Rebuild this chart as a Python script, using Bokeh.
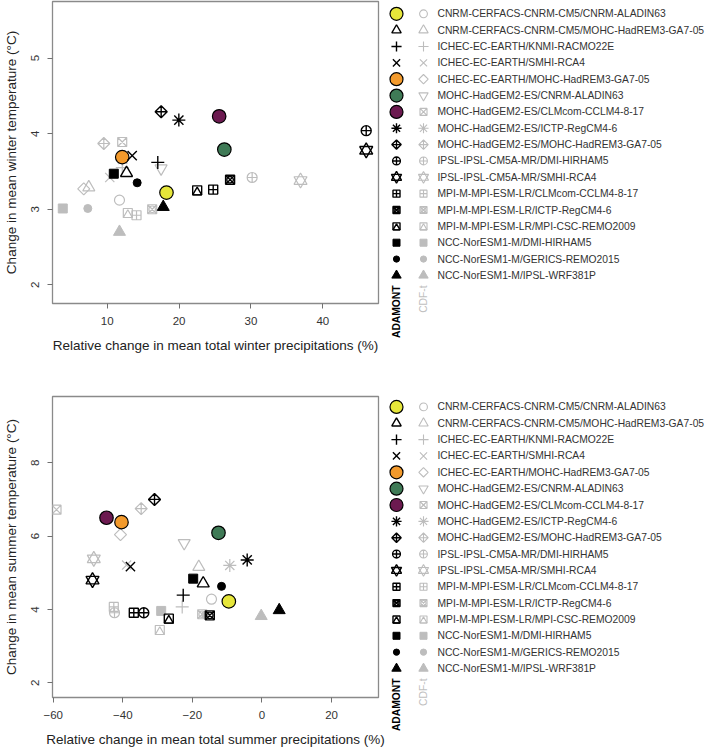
import math
from bokeh.plotting import figure
from bokeh.models import Range1d, FixedTicker
from bokeh.layouts import column, row
from bokeh.embed import file_html
from bokeh.resources import INLINE
from bokeh.core.properties import value

FONT = "Liberation Sans"

models = [
    "CNRM-CERFACS-CNRM-CM5/CNRM-ALADIN63",
    "CNRM-CERFACS-CNRM-CM5/MOHC-HadREM3-GA7-05",
    "ICHEC-EC-EARTH/KNMI-RACMO22E",
    "ICHEC-EC-EARTH/SMHI-RCA4",
    "ICHEC-EC-EARTH/MOHC-HadREM3-GA7-05",
    "MOHC-HadGEM2-ES/CNRM-ALADIN63",
    "MOHC-HadGEM2-ES/CLMcom-CCLM4-8-17",
    "MOHC-HadGEM2-ES/ICTP-RegCM4-6",
    "MOHC-HadGEM2-ES/MOHC-HadREM3-GA7-05",
    "IPSL-IPSL-CM5A-MR/DMI-HIRHAM5",
    "IPSL-IPSL-CM5A-MR/SMHI-RCA4",
    "MPI-M-MPI-ESM-LR/CLMcom-CCLM4-8-17",
    "MPI-M-MPI-ESM-LR/ICTP-RegCM4-6",
    "MPI-M-MPI-ESM-LR/MPI-CSC-REMO2009",
    "NCC-NorESM1-M/DMI-HIRHAM5",
    "NCC-NorESM1-M/GERICS-REMO2015",
    "NCC-NorESM1-M/IPSL-WRF381P",
]

# Winter: relative change of precipitation (%) and change of temperature (degC)
win_dp_adamont = [18.25, 12.69, 17.04, 13.48, 12.09, 26.3, 25.58, 19.97, 17.51,
                  46.04, 46.04, 24.75, 27.1, 22.52, 10.92, 14.17, 17.8]
win_dt_adamont = [3.22, 3.48, 3.62, 3.71, 3.69, 3.79, 4.23, 4.18, 4.29,
                  4.04, 3.78, 3.26, 3.39, 3.25, 3.47, 3.35, 3.03]
win_dp_cdft = [11.71, 7.44, 12.1, 10.36, 6.74, 17.5, 12.09, 12.15, 9.53,
               30.17, 36.9, 14.08, 16.26, 12.87, 3.82, 7.3, 11.71]
win_dt_cdft = [3.12, 3.29, 3.55, 3.42, 3.27, 3.54, 3.89, 3.66, 3.87,
               3.42, 3.38, 2.92, 3.0, 2.95, 3.01, 3.01, 2.70]

# Summer
sum_dp_adamont = [-9.52, -16.88, -22.63, -37.8, -40.37, -12.49, -44.68, -4.24, -30.88,
                  -33.96, -48.7, -36.83, -14.99, -26.77, -19.76, -11.62, 4.96]
sum_dt_adamont = [4.22, 4.71, 4.39, 5.17, 6.38, 6.09, 6.50, 5.35, 7.00,
                  3.91, 4.80, 3.91, 3.84, 3.75, 4.84, 4.63, 3.98]
sum_dp_cdft = [-14.5, -18.15, -22.92, -38.9, -40.66, -22.35, -59.05, -9.24, -34.71,
               -42.38, -48.33, -42.58, -17.17, -29.36, -28.96, -16.2, -0.21]
sum_dt_cdft = [4.28, 5.16, 4.07, 5.21, 6.04, 5.81, 6.72, 5.20, 6.75,
               3.91, 5.38, 4.07, 3.87, 3.44, 3.96, 3.85, 3.82]

# Symbol per model for each downscaling method
adamont_symbols = ["bigcircle", "triangle", "plus", "x", "bigcircle", "bigcircle",
                   "bigcircle", "asterisk", "diamond_plus", "circle_plus", "hexagram",
                   "square_plus", "square_x_circle", "square_triangle",
                   "filled_square", "filled_circle", "filled_triangle"]
cdft_symbols = ["circle", "triangle", "plus", "x", "diamond", "inverted_triangle",
                "square_x", "asterisk", "diamond_plus", "circle_plus", "hexagram",
                "square_plus", "square_x_circle", "square_triangle",
                "filled_square", "filled_circle", "filled_triangle"]
adamont_fills = ["#e6e63a", None, None, None, "#f39a2c", "#3f7a56", "#6c1a50", None,
                 None, None, None, None, None, None, None, None, None]

BLACK = "#000000"
GREY = "#bdbdbd"


def add_symbols(fig, xs, ys, kinds, fills, lc, scale, big, y_per_px, lw):
    """Draw R-style plotting symbols; y_per_px is the data step for one pixel downward."""
    groups = {}
    for x, y, k, f in zip(xs, ys, kinds, fills):
        groups.setdefault(k, []).append((x, y, f))
    for k, pts in groups.items():
        X = [p[0] for p in pts]
        Y = [p[1] for p in pts]
        F = [p[2] for p in pts]
        S = scale
        line = dict(line_color=lc, line_width=lw)
        if k == "bigcircle":
            fig.scatter(X, Y, marker="circle", size=big, fill_color=F,
                        line_color="black", line_width=1.2)
        elif k == "circle":
            fig.scatter(X, Y, marker="circle", size=10 * S, fill_color=None, **line)
        elif k == "triangle":
            fig.scatter(X, Y, marker="triangle", size=12 * S, fill_color=None, **line)
        elif k == "plus":
            fig.scatter(X, Y, marker="cross", size=13 * S, **line)
        elif k == "x":
            fig.scatter(X, Y, marker="x", size=13 * S, **line)
        elif k == "diamond":
            fig.scatter(X, Y, marker="square", size=8.5 * S, angle=math.pi / 4,
                        fill_color=None, **line)
        elif k == "inverted_triangle":
            fig.scatter(X, Y, marker="inverted_triangle", size=12 * S, fill_color=None, **line)
        elif k == "square_x":
            fig.scatter(X, Y, marker="square_x", size=9 * S, fill_color=None, **line)
        elif k == "asterisk":
            fig.scatter(X, Y, marker="asterisk", size=13 * S, **line)
        elif k == "diamond_plus":
            fig.scatter(X, Y, marker="square_x", size=8.5 * S, angle=math.pi / 4,
                        fill_color=None, **line)
        elif k == "circle_plus":
            fig.scatter(X, Y, marker="circle_cross", size=10 * S, fill_color=None, **line)
        elif k == "hexagram":
            fig.scatter(X, Y, marker="triangle", size=13 * S, fill_color=None, **line)
            fig.scatter(X, Y, marker="inverted_triangle", size=13 * S, fill_color=None, **line)
        elif k == "square_plus":
            fig.scatter(X, Y, marker="square_cross", size=9 * S, fill_color=None, **line)
        elif k == "square_x_circle":
            fig.scatter(X, Y, marker="square_x", size=9 * S, fill_color=None, **line)
            fig.scatter(X, Y, marker="circle", size=6.5 * S, fill_color=None, **line)
        elif k == "square_triangle":
            fig.scatter(X, Y, marker="square", size=9 * S, fill_color=None, **line)
            shift = 0.211 * 9 * S * y_per_px
            fig.scatter(X, [y + shift for y in Y], marker="triangle", size=9 * S,
                        fill_color=None, **line)
        elif k == "filled_square":
            fig.scatter(X, Y, marker="square", size=9 * S, fill_color=lc, line_color=lc)
        elif k == "filled_circle":
            fig.scatter(X, Y, marker="circle", size=8 * S, fill_color=lc, line_color=lc)
        elif k == "filled_triangle":
            fig.scatter(X, Y, marker="triangle", size=12 * S, fill_color=lc, line_color=lc)


def scatter_panel(height, border_top, border_bottom, xr, yr, xticks, yticks, xlabel, ylabel,
                  dp_a, dt_a, dp_c, dt_c):
    p = figure(width=386, height=height, x_range=Range1d(*xr), y_range=Range1d(*yr),
               output_backend="svg", toolbar_location=None, frame_align=False,
               min_border_left=52, min_border_right=8,
               min_border_top=border_top, min_border_bottom=border_bottom)
    p.xgrid.visible = False
    p.ygrid.visible = False
    p.outline_line_color = "#8a8a8a"
    p.outline_line_width = 1.3
    p.background_fill_color = "white"
    p.border_fill_color = "white"
    for ax, ticks in ((p.xaxis[0], xticks), (p.yaxis[0], yticks)):
        ax.ticker = FixedTicker(ticks=ticks)
        ax.axis_line_color = None
        ax.major_tick_line_color = "#707070"
        ax.major_tick_out = 5
        ax.major_tick_in = 0
        ax.minor_tick_line_color = None
        ax.major_label_text_font = FONT
        ax.major_label_text_font_size = "11.5px"
        ax.major_label_text_color = "#333333"
        ax.axis_label_text_font = FONT
        ax.axis_label_text_font_size = "13.5px"
        ax.axis_label_text_font_style = "normal"
        ax.axis_label_text_color = "#222222"
        ax.major_label_standoff = 8
        ax.axis_label_standoff = 10
    p.xaxis.axis_label = xlabel
    p.yaxis.axis_label = ylabel
    p.yaxis.major_label_orientation = "vertical"

    frame_h = height - border_top - border_bottom
    y_per_px = -(yr[1] - yr[0]) / frame_h
    add_symbols(p, dp_c, dt_c, cdft_symbols, [None] * len(models), GREY, 1.0, 13.5, y_per_px, 1.2)
    add_symbols(p, dp_a, dt_a, adamont_symbols, adamont_fills, BLACK, 1.0, 13.5, y_per_px, 1.4)
    return p


def legend_panel(height, first_row):
    step = 16.35
    lg = figure(width=328, height=height, x_range=Range1d(0, 328), y_range=Range1d(height, 0),
                output_backend="svg", toolbar_location=None, frame_align=False,
                x_axis_location=None, y_axis_location=None,
                min_border_left=0, min_border_right=0, min_border_top=0, min_border_bottom=0)
    lg.xgrid.visible = False
    lg.ygrid.visible = False
    lg.outline_line_color = None
    rows = [first_row + i * step for i in range(len(models))]
    col_a, col_c, col_t = 10, 37, 51
    add_symbols(lg, [col_a] * len(models), rows, adamont_symbols, adamont_fills,
                BLACK, 0.78, 13, 1.0, 1.4)
    add_symbols(lg, [col_c] * len(models), rows, cdft_symbols, [None] * len(models),
                GREY, 0.78, 13, 1.0, 1.1)
    lg.text(x=[col_t] * len(models), y=rows, text=models, text_font=value(FONT),
            text_font_size="10.3px", text_baseline="middle", text_align="left",
            text_color="#333333")
    top = rows[-1] + 10
    lg.text(x=[col_a], y=[top], text=["ADAMONT"], angle=math.pi / 2, text_font=value(FONT),
            text_font_size="10.3px", text_font_style="bold", text_align="right",
            text_baseline="middle", text_color="#000000")
    lg.text(x=[col_c], y=[top], text=["CDF-t"], angle=math.pi / 2, text_font=value(FONT),
            text_font_size="10.3px", text_align="right", text_baseline="middle",
            text_color="#c0c0c0")
    return lg


p1 = scatter_panel(370, 1, 67, (2.39, 47.75), (1.752, 5.75), [10, 20, 30, 40], [2, 3, 4, 5],
                   "Relative change in mean total winter precipitations (%)",
                   "Change in mean winter temperature (°C)",
                   win_dp_adamont, win_dt_adamont, win_dp_cdft, win_dt_cdft)
p2 = scatter_panel(379, 26, 52, (-60.2, 33.5), (1.60, 9.805), [-60, -40, -20, 0, 20], [2, 4, 6, 8],
                   "Relative change in mean total summer precipitations (%)",
                   "Change in mean summer temperature (°C)",
                   sum_dp_adamont, sum_dt_adamont, sum_dp_cdft, sum_dt_cdft)
l1 = legend_panel(370, 13.3)
l2 = legend_panel(379, 36.4)

layout = column(row(p1, l1), row(p2, l2))
open("out.html", "w").write(file_html(layout, INLINE))
